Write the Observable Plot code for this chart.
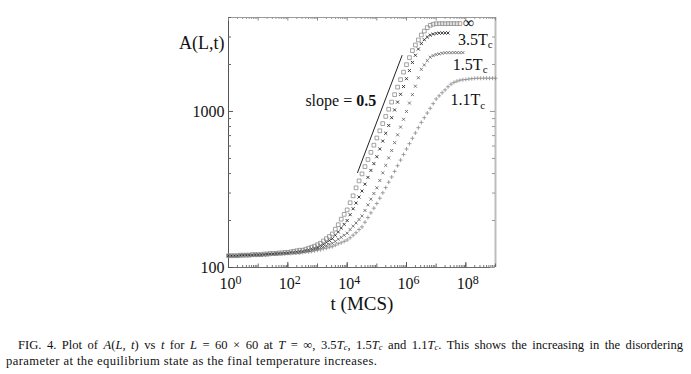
<!DOCTYPE html>
<html>
<head>
<meta charset="utf-8">
<script src="https://cdn.jsdelivr.net/npm/d3@7"></script>
<script src="https://cdn.jsdelivr.net/npm/@observablehq/plot@0.6"></script>
<style>
  html, body { margin: 0; padding: 0; background: #fff; overflow: hidden; }
  body { width: 691px; height: 374px; position: relative; font-family: "Liberation Serif", "DejaVu Serif", serif; }
  #chart { position: absolute; left: 0; top: 0; }
  .cap { position: absolute; font-size: 12.6px; line-height: 13px; color: #111; white-space: nowrap; font-family: "Liberation Serif", serif; }
  .cap sub { font-size: 68%; vertical-align: -0.15em; line-height: 0; }
  #cap1 { left: 18px; top: 339px; width: 665px; text-align: justify; text-align-last: justify; }
  #cap2 { left: 6px; top: 355px; letter-spacing: 0.4px; }
</style>
</head>
<body>
<div id="chart"></div>
<div class="cap" id="cap1">FIG. 4. Plot of <i>A</i>(<i>L, t</i>) vs <i>t</i> for <i>L</i> = 60 × 60 at <i>T</i> = ∞, 3.5<i>T<sub>c</sub></i>, 1.5<i>T<sub>c</sub></i> and 1.1<i>T<sub>c</sub></i>. This shows the increasing in the disordering</div>
<div class="cap" id="cap2">parameter at the equilibrium state as the final temperature increases.</div>
<script>
// ---- data ----
// sampling times as powers of ten: t = 10^tExp
const tExp = [0,0.1,0.2,0.3,0.4,0.5,0.6,0.7,0.8,0.9,
  1,1.1,1.2,1.3,1.4,1.5,1.6,1.7,1.8,1.9,
  2,2.1,2.2,2.3,2.4,2.5,2.6,2.7,2.8,2.9,
  3,3.1,3.2,3.3,3.4,3.5,3.6,3.7,3.8,3.9,
  4,4.1,4.2,4.3,4.4,4.5,4.6,4.7,4.8,4.9,
  5,5.1,5.2,5.3,5.4,5.5,5.6,5.7,5.8,5.9,
  6,6.1,6.2,6.3,6.4,6.5,6.6,6.7,6.8,6.9,
  7,7.1,7.2,7.3,7.4,7.5,7.6,7.7,7.8,7.9,
  8,8.1,8.2,8.3,8.4,8.5,8.6,8.7,8.8,8.9,
  9];

// A(L,t) for T = infinity
const aInf = [119,119,119,119,120,120,120,120,121,121,
  121,121,122,122,123,123,123,124,124,125,
  125,126,127,128,129,129,131,133,135,137,
  140,143,148,153,158,164,176,188,204,219,
  234,260,288,324,359,398,443,492,547,608,
  676,752,836,929,1033,1148,1282,1432,1600,1786,
  1995,2213,2455,2667,2871,3090,3273,3443,3565,3622,
  3648,3652,3656,3650,3658,3654,3656,3652,3656];

// A(L,t) for T = 3.5 Tc
const a35 = [119,119,119,119,120,120,120,120,120,121,
  121,121,121,122,122,122,123,123,123,124,
  124,125,125,126,127,127,129,130,132,133,
  135,138,141,145,149,153,161,169,179,189,
  200,218,238,259,283,309,342,378,419,463,
  513,575,646,724,813,912,1023,1148,1288,1445,
  1622,1828,2061,2291,2512,2723,2884,2999,3083,3133,
  3162,3177,3184,3186,3184];

// A(L,t) for T = 1.5 Tc
const a15 = [119,119,119,119,119,120,120,120,120,120,
  120,121,121,121,122,122,122,122,123,123,
  123,124,124,125,125,126,127,128,129,131,
  132,134,136,138,141,143,147,152,156,161,
  166,175,184,193,203,214,232,252,274,298,
  324,361,404,451,504,562,631,708,794,891,
  1000,1132,1282,1452,1644,1862,1986,2118,2228,2280,
  2317,2339,2360,2377,2382,2380,2384,2382,2381,2383];

// A(L,t) for T = 1.1 Tc
const a11 = [119,119,119,119,119,119,120,120,120,120,
  120,120,121,121,121,122,122,122,122,122,
  123,123,124,124,124,125,126,126,127,128,
  129,130,132,133,135,136,139,142,144,147,
  150,155,161,167,175,182,195,209,224,240,
  257,278,301,325,352,380,413,449,488,530,
  575,622,673,728,787,851,912,977,1047,1122,
  1202,1259,1318,1374,1439,1496,1535,1563,1585,1596,
  1603,1614,1622,1629,1633,1632,1634,1633,1632,1634,
  1633];

const seriesLabels = ["∞", "3.5Tc", "1.5Tc", "1.1Tc"];

// axis ticks
const xDomain = [1, 1e9];
const yDomain = [100, 4000];
const xLabelExps = [0, 2, 4, 6, 8];
const xDecadeExps = [0,1,2,3,4,5,6,7,8,9];
const yMajor = [100, 1000];
const yMinor = [200,300,400,500,600,700,800,900,2000,3000,4000];
const yTickLabels = ["100", "1000"];

// slope guide: slope 0.5 from t0 to t1
const slopeGuide = {t0: 22400, t1: 708000, a0: 406, slope: 0.5};
const slopeText = {t: 95000, a: 1175};

// ---- build ----
const toRows = (vals) => vals.map((a, i) => ({t: Math.pow(10, tExp[i]), a}));
const sInf = toRows(aInf), s35 = toRows(a35), s15 = toRows(a15), s11 = toRows(a11);

const xMajor = xLabelExps.map(e => Math.pow(10, e));
const xDecades = xDecadeExps.map(e => Math.pow(10, e));
const xMinor = [];
for (let e = 0; e < 9; e++) for (let k = 2; k <= 9; k++) xMinor.push(k * Math.pow(10, e));

const guide = [
  {t: slopeGuide.t0, a: slopeGuide.a0},
  {t: slopeGuide.t1, a: slopeGuide.a0 * Math.pow(slopeGuide.t1 / slopeGuide.t0, slopeGuide.slope)}
];

const W = 691, Hsvg = 330, mt = 17, mb = 63, ml = 228, mr = 196;
const FH = Hsvg - mt - mb, FW = W - ml - mr;
const font = "Liberation Serif";

const last = (s) => [s[s.length - 1]];

const plot = Plot.plot({
  width: W, height: Hsvg,
  marginTop: mt, marginBottom: mb, marginLeft: ml, marginRight: mr,
  style: {fontFamily: font, background: "transparent", color: "#111", overflow: "visible"},
  x: {type: "log", domain: xDomain, axis: null},
  y: {type: "log", domain: yDomain, axis: null},
  marks: [
    // frame
    Plot.ruleY([yDomain[0]], {stroke: "#6a6a6a", strokeWidth: 1}),
    Plot.ruleY([yDomain[1]], {stroke: "#9a9a9a", strokeWidth: 1}),
    Plot.ruleX([xDomain[0]], {stroke: "#555", strokeWidth: 1}),
    Plot.ruleX([xDomain[1]], {stroke: "#bdbdbd", strokeWidth: 2}),
    // x ticks bottom
    Plot.ruleX(xMinor, {x: d => d, insetTop: FH - 2, stroke: "#777"}),
    Plot.ruleX(xDecades, {x: d => d, insetTop: FH - 3.5, stroke: "#666"}),
    Plot.ruleX(xMajor, {x: d => d, insetTop: FH - 5, stroke: "#555"}),
    // x ticks top
    Plot.ruleX(xMinor, {x: d => d, insetBottom: FH - 2, stroke: "#999"}),
    Plot.ruleX(xDecades, {x: d => d, insetBottom: FH - 3.5, stroke: "#888"}),
    // y ticks left
    Plot.ruleY(yMinor, {y: d => d, insetRight: FW - 3, stroke: "#666"}),
    Plot.ruleY(yMajor, {y: d => d, insetRight: FW - 5, stroke: "#555"}),
    // y ticks right
    Plot.ruleY(yMinor, {y: d => d, insetLeft: FW - 3, stroke: "#999"}),
    Plot.ruleY(yMajor, {y: d => d, insetLeft: FW - 5, stroke: "#999"}),
    // data
    Plot.dot(s11, {x: "t", y: "a", symbol: "plus", r: 1.4, stroke: "#8a8a8a", strokeWidth: 0.8}),
    Plot.dot(s15, {x: "t", y: "a", symbol: "times", r: 1.5, stroke: "#5a5a5a", strokeWidth: 0.8}),
    Plot.dot(s35, {x: "t", y: "a", symbol: "times", r: 1.5, stroke: "#2a2a2a", strokeWidth: 0.9}),
    Plot.dot(sInf, {x: "t", y: "a", symbol: "square", r: 2.1, stroke: "#8c8c8c", fill: "none", strokeWidth: 0.8}),
    // slope guide
    Plot.line(guide, {x: "t", y: "a", stroke: "#222", strokeWidth: 1}),
    Plot.text([slopeText], {x: "t", y: "a", text: () => "slope = 0.5", textAnchor: "end", fontSize: 16, className: "slope-lbl"}),
    // curve labels
    Plot.text(last(sInf), {x: "t", y: "a", text: () => seriesLabels[0], dx: 3, dy: -1, textAnchor: "start", fontSize: 16}),
    Plot.text(last(s35), {x: "t", y: "a", text: () => seriesLabels[1], dx: 10, dy: 7, textAnchor: "start", fontSize: 16, className: "tc-lbl"}),
    Plot.text(last(s15), {x: "t", y: "a", text: () => seriesLabels[2], dx: -10, dy: 12, textAnchor: "start", fontSize: 16, className: "tc-lbl"}),
    Plot.text(last(s11), {x: "t", y: "a", text: () => seriesLabels[3], dx: -45, dy: 22, textAnchor: "start", fontSize: 16, className: "tc-lbl"}),
    // tick labels
    Plot.text(xMajor, {x: d => d, frameAnchor: "bottom", text: (d, i) => String(xLabelExps[i]), dy: 21, dx: 2, fontSize: 16, className: "xexp"}),
    Plot.text(yMajor, {y: d => d, frameAnchor: "left", text: (d, i) => yTickLabels[i], dx: -4, dy: 0, textAnchor: "end", fontSize: 16}),
    // axis labels
    Plot.text(["A(L,t)"], {frameAnchor: "top-left", text: d => d, dx: -4, dy: 19, textAnchor: "end", fontSize: 18}),
    Plot.text(["t (MCS)"], {frameAnchor: "bottom", text: d => d, dy: 42, fontSize: 19})
  ]
});
document.getElementById("chart").appendChild(plot);

// superscripts / subscripts / bold pieces as real text
d3.select(plot).selectAll("g.xexp text").each(function() {
  const exp = this.textContent;
  const t = d3.select(this);
  t.text("10");
  t.append("tspan").attr("dy", "-0.38em").attr("font-size", 12).text(exp);
});
d3.select(plot).selectAll("g.tc-lbl text").each(function() {
  const s = this.textContent; // e.g. "3.5Tc"
  const t = d3.select(this);
  t.text(s.slice(0, -2));
  t.append("tspan").text("T");
  t.append("tspan").attr("dy", "0.3em").attr("font-size", 11).text("c");
});
d3.select(plot).selectAll("g.slope-lbl text").each(function() {
  const t = d3.select(this);
  t.text("slope = ");
  t.append("tspan").attr("font-weight", "bold").text("0.5");
});
</script>
</body>
</html>
